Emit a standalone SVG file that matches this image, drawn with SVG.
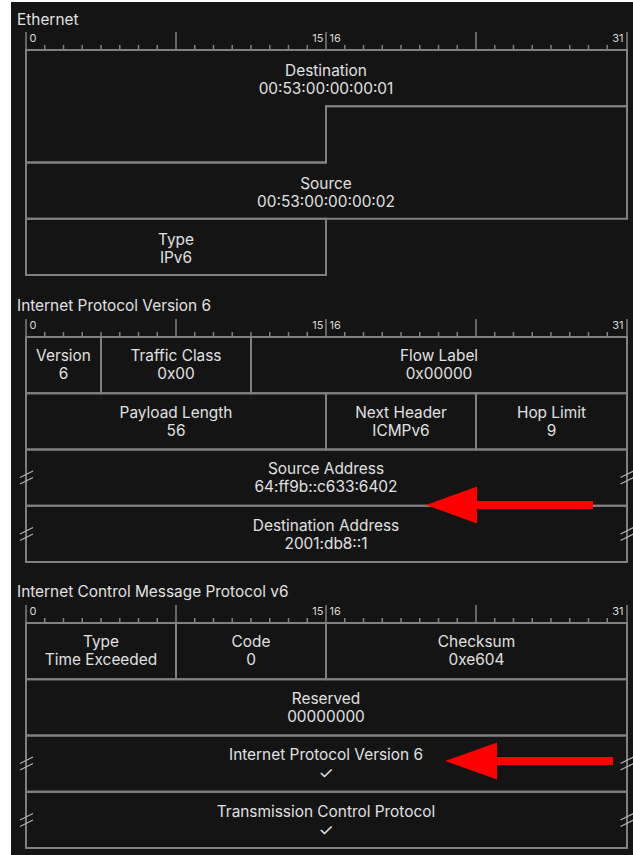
<svg xmlns="http://www.w3.org/2000/svg" xmlns:xlink="http://www.w3.org/1999/xlink" width="633" height="855" viewBox="0 0 633 855">
  <style>
    .bg { fill: #141414; }
    .fld { fill: none; stroke: #808080; stroke-width: 2; }
    .tick { stroke: #808080; stroke-width: 1.5; }
    .brk { stroke: #b0b0b0; stroke-width: 1.2; fill: none; }
    text { font-family: Inter, "Liberation Sans", sans-serif; fill: #e0e0e0; }
    .title { font-size: 15.4px; }
    .lbl { font-size: 15.4px; text-anchor: middle; }
    .chk { font-size: 17px; }
    .bit { font-size: 11px; fill: #d8d8d8; }
    .arrow { fill: #ff0000; }
  </style>
  <defs>
    <!-- one-row bit ruler, 32 bits over 600px, bottom edge at y=0 -->
    <g id="ruler">
      <path class="tick" d="M26,-18V0 M176,-18V0 M326,-18V0 M476,-18V0 M627,-18V0
        M44.75,-5V0 M63.5,-5V0 M82.25,-5V0 M101,-5V0 M119.75,-5V0 M138.5,-5V0 M157.25,-5V0
        M194.75,-5V0 M213.5,-5V0 M232.25,-5V0 M251,-5V0 M269.75,-5V0 M288.5,-5V0 M307.25,-5V0
        M344.75,-5V0 M363.5,-5V0 M382.25,-5V0 M401,-5V0 M419.75,-5V0 M438.5,-5V0 M457.25,-5V0
        M494.75,-5V0 M513.5,-5V0 M532.25,-5V0 M551,-5V0 M569.75,-5V0 M588.5,-5V0 M607.25,-5V0"/>
      <text class="bit" x="29.5" y="-8">0</text>
      <text class="bit" x="323.5" y="-8" text-anchor="end">15</text>
      <text class="bit" x="329.5" y="-8">16</text>
      <text class="bit" x="623.5" y="-8" text-anchor="end">31</text>
    </g>
    <!-- break mark for elided long fields -->
    <g id="brk">
      <path class="brk" d="M-6.5,-0.5L6.5,-7 M-6.5,6L6.5,-0.5"/>
    </g>
  </defs>

  <rect width="633" height="855" fill="#ffffff"/>
  <rect class="bg" x="11" y="2" width="622" height="853"/>

  <!-- Ethernet -->
  <g id="ethernet">
    <text class="title" x="17" y="25">Ethernet</text>
    <use xlink:href="#ruler" y="50"/>
    <g id="eth-destination">
      <path class="fld" d="M26,50H627V106.25H326V162.5H26Z"/>
      <text class="lbl" x="326" y="76">Destination</text>
      <text class="lbl" x="326" y="94">00:53:00:00:00:01</text>
    </g>
    <g id="eth-source">
      <path class="fld" d="M326,106.25H627V218.75H26V162.5H326Z"/>
      <text class="lbl" x="326" y="189">Source</text>
      <text class="lbl" x="326" y="207">00:53:00:00:00:02</text>
    </g>
    <g id="eth-type">
      <rect class="fld" x="26" y="218.75" width="300" height="56.25"/>
      <text class="lbl" x="176" y="245">Type</text>
      <text class="lbl" x="176" y="263">IPv6</text>
    </g>
  </g>

  <!-- Internet Protocol Version 6 -->
  <g id="ipv6">
    <text class="title" x="17" y="311">Internet Protocol Version 6</text>
    <use xlink:href="#ruler" y="337"/>
    <g id="ip-version">
      <rect class="fld" x="26" y="337" width="75" height="56.25"/>
      <text class="lbl" x="63.5" y="361">Version</text>
      <text class="lbl" x="63.5" y="379">6</text>
    </g>
    <g id="ip-traffic-class">
      <rect class="fld" x="101" y="337" width="150" height="56.25"/>
      <text class="lbl" x="176" y="361">Traffic Class</text>
      <text class="lbl" x="176" y="379">0x00</text>
    </g>
    <g id="ip-flow-label">
      <rect class="fld" x="251" y="337" width="376" height="56.25"/>
      <text class="lbl" x="439" y="361">Flow Label</text>
      <text class="lbl" x="439" y="379">0x00000</text>
    </g>
    <g id="ip-payload-length">
      <rect class="fld" x="26" y="393.25" width="300" height="56.25"/>
      <text class="lbl" x="176" y="417.5">Payload Length</text>
      <text class="lbl" x="176" y="435.5">56</text>
    </g>
    <g id="ip-next-header">
      <rect class="fld" x="326" y="393.25" width="150" height="56.25"/>
      <text class="lbl" x="401" y="417.5">Next Header</text>
      <text class="lbl" x="401" y="435.5">ICMPv6</text>
    </g>
    <g id="ip-hop-limit">
      <rect class="fld" x="476" y="393.25" width="151" height="56.25"/>
      <text class="lbl" x="551.5" y="417.5">Hop Limit</text>
      <text class="lbl" x="551.5" y="435.5">9</text>
    </g>
    <g id="ip-source-address">
      <rect class="fld" x="26" y="449.5" width="601" height="56.25"/>
      <use xlink:href="#brk" x="26.5" y="478"/>
      <use xlink:href="#brk" x="627" y="478"/>
      <text class="lbl" x="326" y="474">Source Address</text>
      <text class="lbl" x="326" y="492">64:ff9b::c633:6402</text>
    </g>
    <g id="ip-destination-address">
      <rect class="fld" x="26" y="505.75" width="601" height="56.25"/>
      <use xlink:href="#brk" x="26.5" y="534.5"/>
      <use xlink:href="#brk" x="627" y="534.5"/>
      <text class="lbl" x="326" y="530.5">Destination Address</text>
      <text class="lbl" x="326" y="548.5">2001:db8::1</text>
    </g>
  </g>

  <!-- Internet Control Message Protocol v6 -->
  <g id="icmpv6">
    <text class="title" x="17" y="597">Internet Control Message Protocol v6</text>
    <use xlink:href="#ruler" y="623"/>
    <g id="icmp-type">
      <rect class="fld" x="26" y="623" width="150" height="56.25"/>
      <text class="lbl" x="101" y="647">Type</text>
      <text class="lbl" x="101" y="665">Time Exceeded</text>
    </g>
    <g id="icmp-code">
      <rect class="fld" x="176" y="623" width="150" height="56.25"/>
      <text class="lbl" x="251" y="647">Code</text>
      <text class="lbl" x="251" y="665">0</text>
    </g>
    <g id="icmp-checksum">
      <rect class="fld" x="326" y="623" width="301" height="56.25"/>
      <text class="lbl" x="476.5" y="647">Checksum</text>
      <text class="lbl" x="476.5" y="665">0xe604</text>
    </g>
    <g id="icmp-reserved">
      <rect class="fld" x="26" y="679.25" width="601" height="56.25"/>
      <text class="lbl" x="326" y="703.5">Reserved</text>
      <text class="lbl" x="326" y="721.5">00000000</text>
    </g>
    <g id="icmp-inner-ipv6">
      <rect class="fld" x="26" y="735.5" width="601" height="56.25"/>
      <use xlink:href="#brk" x="26.5" y="764"/>
      <use xlink:href="#brk" x="627" y="764"/>
      <text class="lbl" x="326" y="760">Internet Protocol Version 6</text>
      <text class="lbl chk" x="326" y="779">✓</text>
    </g>
    <g id="icmp-inner-tcp">
      <rect class="fld" x="26" y="791.75" width="601" height="56.25"/>
      <use xlink:href="#brk" x="26.5" y="820.5"/>
      <use xlink:href="#brk" x="627" y="820.5"/>
      <text class="lbl" x="326" y="816.5">Transmission Control Protocol</text>
      <text class="lbl chk" x="326" y="835.5">✓</text>
    </g>
  </g>

  <!-- highlight arrows -->
  <g id="connectors">
    <polygon class="arrow" points="426,505 477,486.5 477,501 593,501 593,509 477,509 477,523.5"/>
    <polygon class="arrow" points="445,761 497,742.5 497,757 613,757 613,765 497,765 497,779.5"/>
  </g>
</svg>
